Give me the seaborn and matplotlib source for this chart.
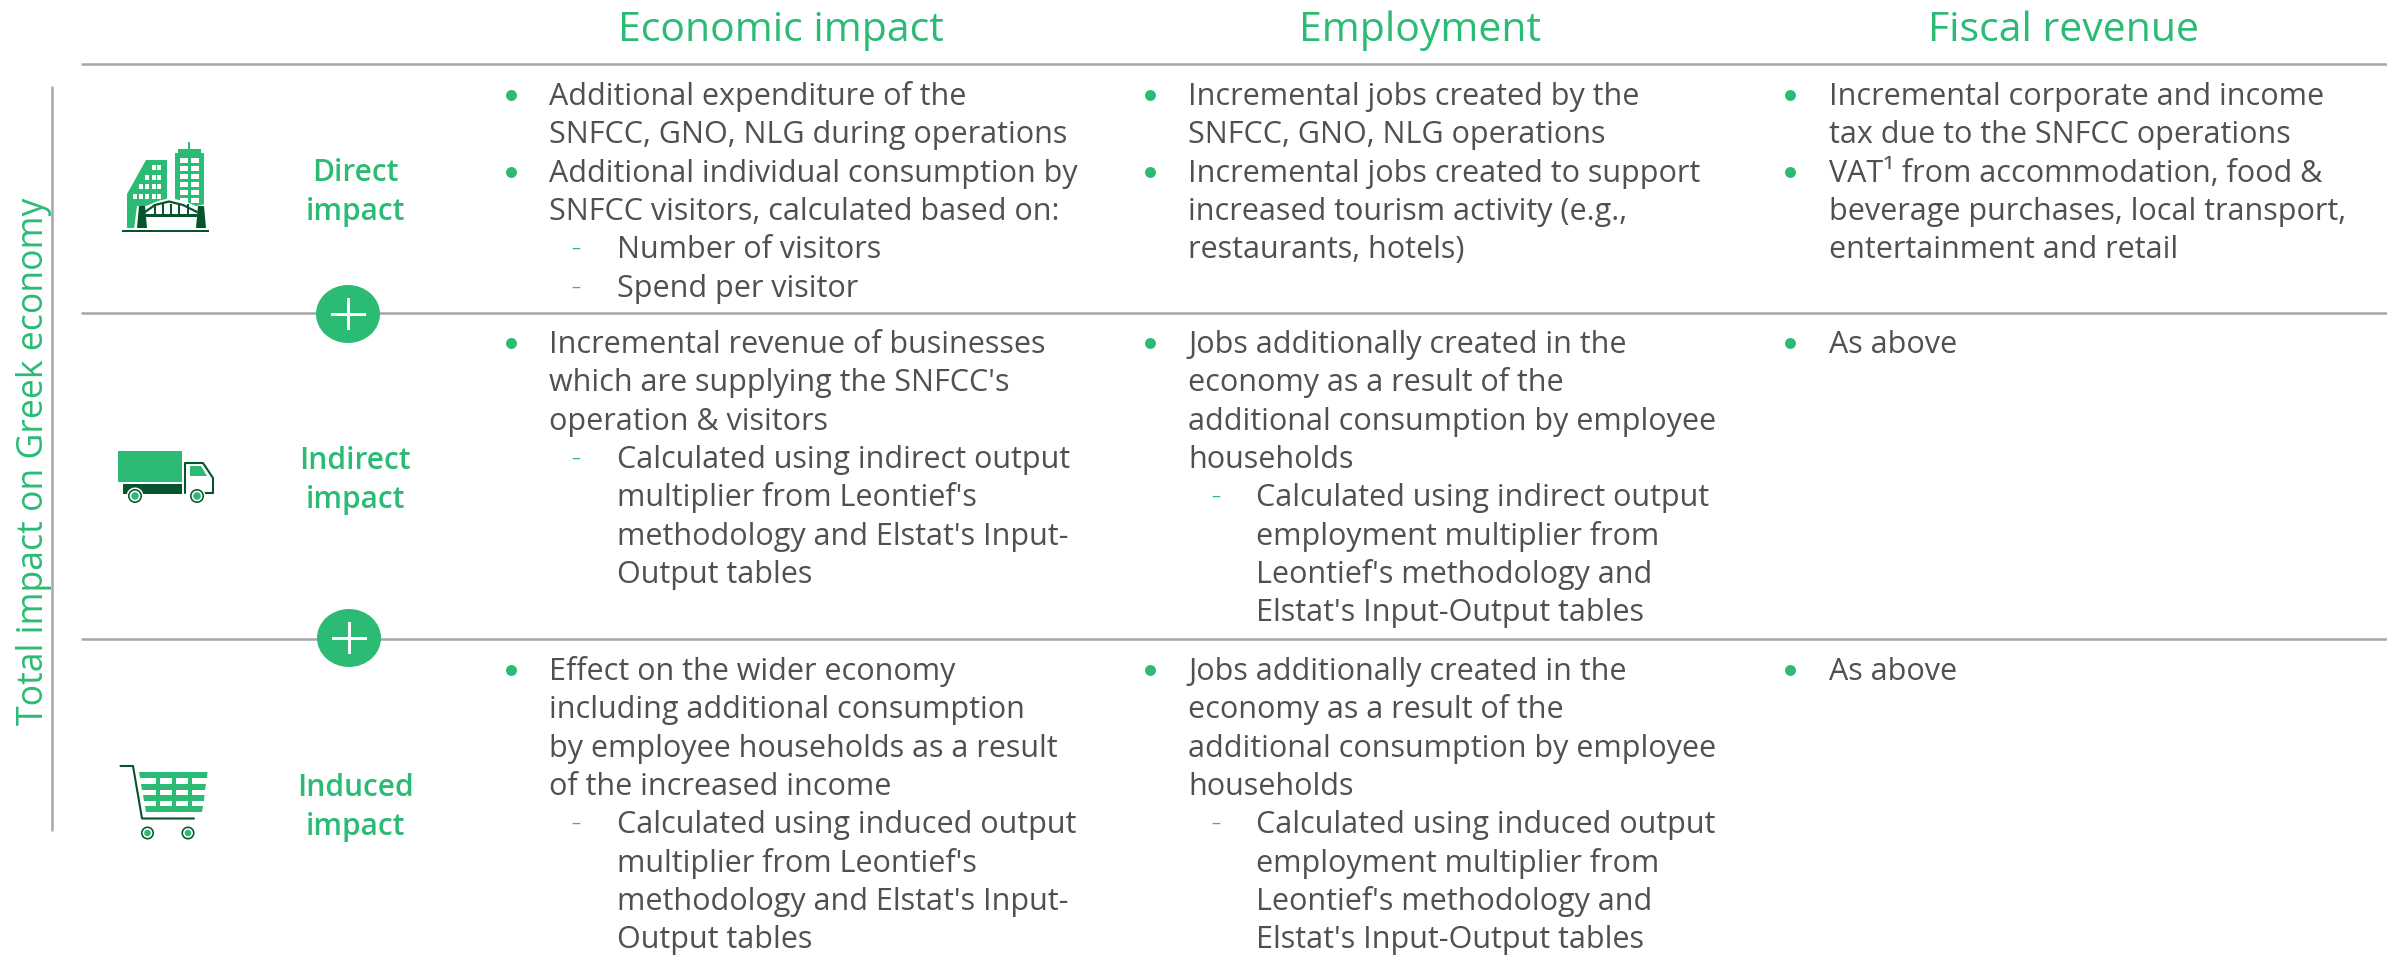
import matplotlib
matplotlib.use("Agg")
import seaborn as sns
import matplotlib.pyplot as plt
from matplotlib.patches import Polygon, Rectangle, Circle, Ellipse

green = "#2BBB74"
dark = "#06542E"
grey = "#505050"
rule = "#A6A6A6"

headers = ["Economic impact", "Employment", "Fiscal revenue"]
row_labels = [["Direct", "impact"], ["Indirect", "impact"], ["Induced", "impact"]]
side_label = "Total impact on Greek economy"

# b = new bullet, c = bullet carry on, s = new sub item, t = sub item carry on
econ_direct = [("b", "Additional expenditure of the"), ("c", "SNFCC, GNO, NLG during operations"),
               ("b", "Additional individual consumption by"), ("c", "SNFCC visitors, calculated based on:"),
               ("s", "Number of visitors"), ("s", "Spend per visitor")]
econ_indirect = [("b", "Incremental revenue of businesses"), ("c", "which are supplying the SNFCC's"),
                 ("c", "operation & visitors"), ("s", "Calculated using indirect output"),
                 ("t", "multiplier from Leontief's"), ("t", "methodology and Elstat's Input-"),
                 ("t", "Output tables")]
econ_induced = [("b", "Effect on the wider economy"), ("c", "including additional consumption"),
                ("c", "by employee households as a result"), ("c", "of the increased income"),
                ("s", "Calculated using induced output"), ("t", "multiplier from Leontief's"),
                ("t", "methodology and Elstat's Input-"), ("t", "Output tables")]
emp_direct = [("b", "Incremental jobs created by the"), ("c", "SNFCC, GNO, NLG operations"),
              ("b", "Incremental jobs created to support"), ("c", "increased tourism activity (e.g.,"),
              ("c", "restaurants, hotels)")]
emp_indirect = [("b", "Jobs additionally created in the"), ("c", "economy as a result of the"),
                ("c", "additional consumption by employee"), ("c", "households"),
                ("s", "Calculated using indirect output"), ("t", "employment multiplier from"),
                ("t", "Leontief's methodology and"), ("t", "Elstat's Input-Output tables")]
emp_induced = [("b", "Jobs additionally created in the"), ("c", "economy as a result of the"),
               ("c", "additional consumption by employee"), ("c", "households"),
               ("s", "Calculated using induced output"), ("t", "employment multiplier from"),
               ("t", "Leontief's methodology and"), ("t", "Elstat's Input-Output tables")]
fiscal_direct = [("b", "Incremental corporate and income"), ("c", "tax due to the SNFCC operations"),
                 ("b", "VAT¹ from accommodation, food &"), ("c", "beverage purchases, local transport,"),
                 ("c", "entertainment and retail")]
fiscal_indirect = [("b", "As above")]
fiscal_induced = [("b", "As above")]

sns.set_theme(style="white")
plt.rcParams["font.family"] = ["Open Sans", "DejaVu Sans"]

fig = plt.figure(figsize=(23.87, 9.55), dpi=100)
ax = fig.add_axes([0, 0, 1, 1])
ax.set_xlim(0, 2387)
ax.set_ylim(955, 0)
ax.axis("off")

# rules
for y in [64, 313, 639]:
    sns.lineplot(x=[82, 2387], y=[y, y], color=rule, linewidth=1.8, ax=ax, legend=False)
sns.lineplot(x=[52, 52], y=[87, 830], color=rule, linewidth=1.8, ax=ax, legend=False, orient="y")

# headers
for label, cx in zip(headers, [781, 1420, 2063]):
    ax.text(cx, 41, label, color=green, fontsize=29.5, ha="center", va="baseline")

# side label
ax.text(43, 461, side_label, color=green, fontsize=25.7, rotation=90, rotation_mode="anchor",
        ha="center", va="baseline")

# row labels
for lines, ys in zip(row_labels, [(181, 220), (469, 508), (796, 835)]):
    for line, y in zip(lines, ys):
        ax.text(355, y, line, color=green, fontsize=21.5, fontweight="semibold", ha="center", va="baseline")

# table body
columns = [(511, 549, 576, 617), (1150, 1188, 1216, 1256), (1790, 1829, 1857, 1897)]
table = [[econ_direct, econ_indirect, econ_induced],
         [emp_direct, emp_indirect, emp_induced],
         [fiscal_direct, fiscal_indirect, fiscal_induced]]
row_tops = [95, 343, 670]
step = 38.3
bx, by = [], []
for col, cells in zip(columns, table):
    for top, cell in zip(row_tops, cells):
        for i, (kind, line) in enumerate(cell):
            y = top + i * step
            if kind == "b":
                bx.append(col[0])
                by.append(y)
            if kind == "s":
                ax.text(col[2], y + 6, "–", color=green, fontsize=13, ha="center", va="baseline")
            x = col[1] if kind in "bc" else col[3]
            ax.text(x, y + 10, line, color=grey, fontsize=22, ha="left", va="baseline")
sns.scatterplot(x=bx, y=by, color=green, s=62, linewidth=0, ax=ax, legend=False)

# plus badges
for cx, cy in [(348, 314), (349, 638)]:
    ax.add_patch(Ellipse((cx, cy), 64, 58, color=green, lw=0, zorder=4))
    ax.add_patch(Rectangle((cx - 17.5, cy - 1.5), 35, 3, color="white", lw=0, zorder=5))
    ax.add_patch(Rectangle((cx - 1.5, cy - 16), 3, 32, color="white", lw=0, zorder=5))


def poly(points, color, z=3):
    ax.add_patch(Polygon(points, closed=True, facecolor=color, edgecolor="none", zorder=z))


def box(x0, y0, x1, y1, color, z=3):
    ax.add_patch(Rectangle((x0, y0), x1 - x0, y1 - y0, facecolor=color, edgecolor="none", zorder=z))


def wheel(cx, cy, r=7):
    ax.add_patch(Circle((cx, cy), r + 1.5, color="white", lw=0, zorder=5))
    ax.add_patch(Circle((cx, cy), r, color=dark, lw=0, zorder=6))
    ax.add_patch(Circle((cx, cy), r - 1.6, color="white", lw=0, zorder=7))
    ax.add_patch(Circle((cx, cy), r - 3.2, color=green, lw=0, zorder=8))


# building icon
poly([(127, 228), (127, 194), (146, 160), (167, 160), (167, 228)], green)
box(175, 153, 204, 228, green)
box(178, 149, 201, 153, green)
box(188, 142, 190, 150, green)
for y0 in [158, 166, 174, 182, 190, 198]:
    for x0 in [180, 191]:
        box(x0, y0, x0 + 8, y0 + 5, "white", 4)
for y0, xs in [(165, [152, 157]), (175, [145, 152, 157]), (184, [139, 145, 152, 157]), (194, [133, 139, 145, 152, 157])]:
    for x0 in xs:
        box(x0, y0, x0 + 4, y0 + 5, "white", 4)
poly([(134, 229), (137, 206), (146, 206), (158, 201), (170, 198), (184, 201), (196, 206), (206, 204), (208, 229)], "white", 5)
poly([(137, 228), (139, 206), (145, 206), (147, 228)], dark, 6)
poly([(196, 228), (198, 206), (204, 206), (206, 228)], dark, 6)
ax.plot([145, 155, 169, 183, 197], [212, 205, 201.5, 205, 212], color=dark, lw=1.6, zorder=6)
box(145, 214, 198, 217, dark, 6)
for x0 in [154, 162, 170, 178, 187]:
    box(x0, 204, x0 + 1.6, 215, dark, 6)
box(122, 230, 209, 232, dark, 6)

# truck icon
box(118, 451, 182, 482, green)
box(123, 484, 182, 494, dark)
ax.plot([185, 185, 203, 213, 213, 204], [493, 463, 463, 478, 493, 493], color=dark, lw=1.5, zorder=4)
poly([(190, 466), (201, 466), (207, 476), (190, 476)], green)
wheel(135, 496)
wheel(197, 496)

# cart icon
ax.plot([120.5, 133, 142, 194], [766, 766, 818.5, 818.5], color=dark, lw=1.5, zorder=4)
poly([(139, 772), (207.5, 772), (207, 778), (140, 778)], green)
poly([(141, 784), (206, 784), (205, 790), (142, 790)], green)
poly([(143, 795), (204.5, 795), (204, 801), (144, 801)], green)
poly([(145, 806), (203, 806), (202, 812), (146, 812)], green)
for x0 in [156, 172, 188]:
    box(x0, 772, x0 + 4, 812, green)
wheel(147.5, 833, 6.5)
wheel(188, 833, 6.5)

plt.savefig("out.png", dpi=100)
